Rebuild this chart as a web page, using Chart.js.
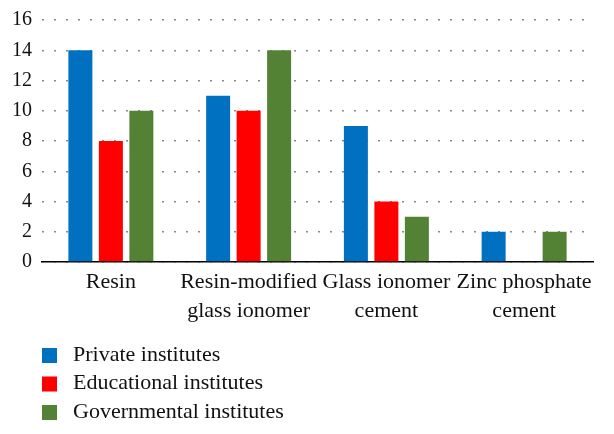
<!DOCTYPE html>
<html>
<head>
<meta charset="utf-8">
<script src="https://cdn.jsdelivr.net/npm/chart.js@4.4.0/dist/chart.umd.min.js"></script>
<style>
  html, body { margin: 0; padding: 0; background: #fff; }
  #wrap { width: 614px; height: 434px; }
</style>
</head>
<body>
<div id="wrap"><canvas id="barChart" width="614" height="434"></canvas></div>
<script>
const categories = [
  'Resin',
  ['Resin-modified', 'glass ionomer'],
  ['Glass ionomer', 'cement'],
  ['Zinc phosphate', 'cement']
];
const seriesNames = ['Private institutes', 'Educational institutes', 'Governmental institutes'];
const privateValues = [14, 11, 9, 2];
const educationalValues = [8, 10, 4, 0];
const governmentalValues = [10, 14, 3, 2];
const yTicks = [0, 2, 4, 6, 8, 10, 12, 14, 16];

const colors = ['#0070c0', '#ff0000', '#548235'];
const serif = "'Liberation Serif', 'DejaVu Serif', serif";
const textColor = '#111';

// legend drawn as a vertical list under the axis
const listLegend = {
  id: 'listLegend',
  afterDraw(chart) {
    const ctx = chart.ctx;
    ctx.save();
    ctx.font = '22px ' + serif;
    ctx.textBaseline = 'middle';
    chart.data.datasets.forEach((ds, i) => {
      const y = 348 + i * 28.5;
      ctx.fillStyle = ds.backgroundColor;
      ctx.fillRect(42, y, 15, 15);
      ctx.fillStyle = textColor;
      ctx.fillText(ds.label, 73, y + 7);
    });
    ctx.restore();
  }
};

const data = {
  labels: categories,
  datasets: [
    { label: seriesNames[0], data: privateValues, backgroundColor: colors[0] },
    { label: seriesNames[1], data: educationalValues, backgroundColor: colors[1] },
    { label: seriesNames[2], data: governmentalValues, backgroundColor: colors[2] }
  ]
};

const config = {
  type: 'bar',
  data: data,
  options: {
    responsive: false,
    animation: false,
    categoryPercentage: 0.664,
    barPercentage: 0.787,
    layout: { padding: { top: 20, right: 21, bottom: 110, left: 0 } },
    plugins: {
      legend: { display: false },
      tooltip: { enabled: false }
    },
    scales: {
      x: {
        grid: { display: false },
        border: { display: true, color: '#000', width: 1.5 },
        ticks: {
          color: textColor,
          font: { family: serif, size: 22, lineHeight: 1.32 },
          padding: -2,
          maxRotation: 0,
          autoSkip: false
        },
        afterFit(scale) {
          scale.height = 62;
          scale.paddingLeft = 0;
          scale.paddingRight = 0;
        }
      },
      y: {
        min: 0,
        max: 16,
        afterBuildTicks(scale) {
          scale.ticks = yTicks.map(v => ({ value: v }));
        },
        grid: {
          color: '#8a8a8a',
          lineWidth: 1.5,
          drawTicks: false
        },
        border: { display: false, dash: [2, 10] },
        ticks: {
          color: textColor,
          font: { family: serif, size: 20 },
          padding: 10
        },
        afterFit(scale) {
          scale.width = 42;
          scale.paddingTop = 0;
          scale.paddingBottom = 0;
        }
      }
    }
  },
  plugins: [listLegend]
};

const barChart = new Chart(document.getElementById('barChart'), config);
</script>
</body>
</html>
